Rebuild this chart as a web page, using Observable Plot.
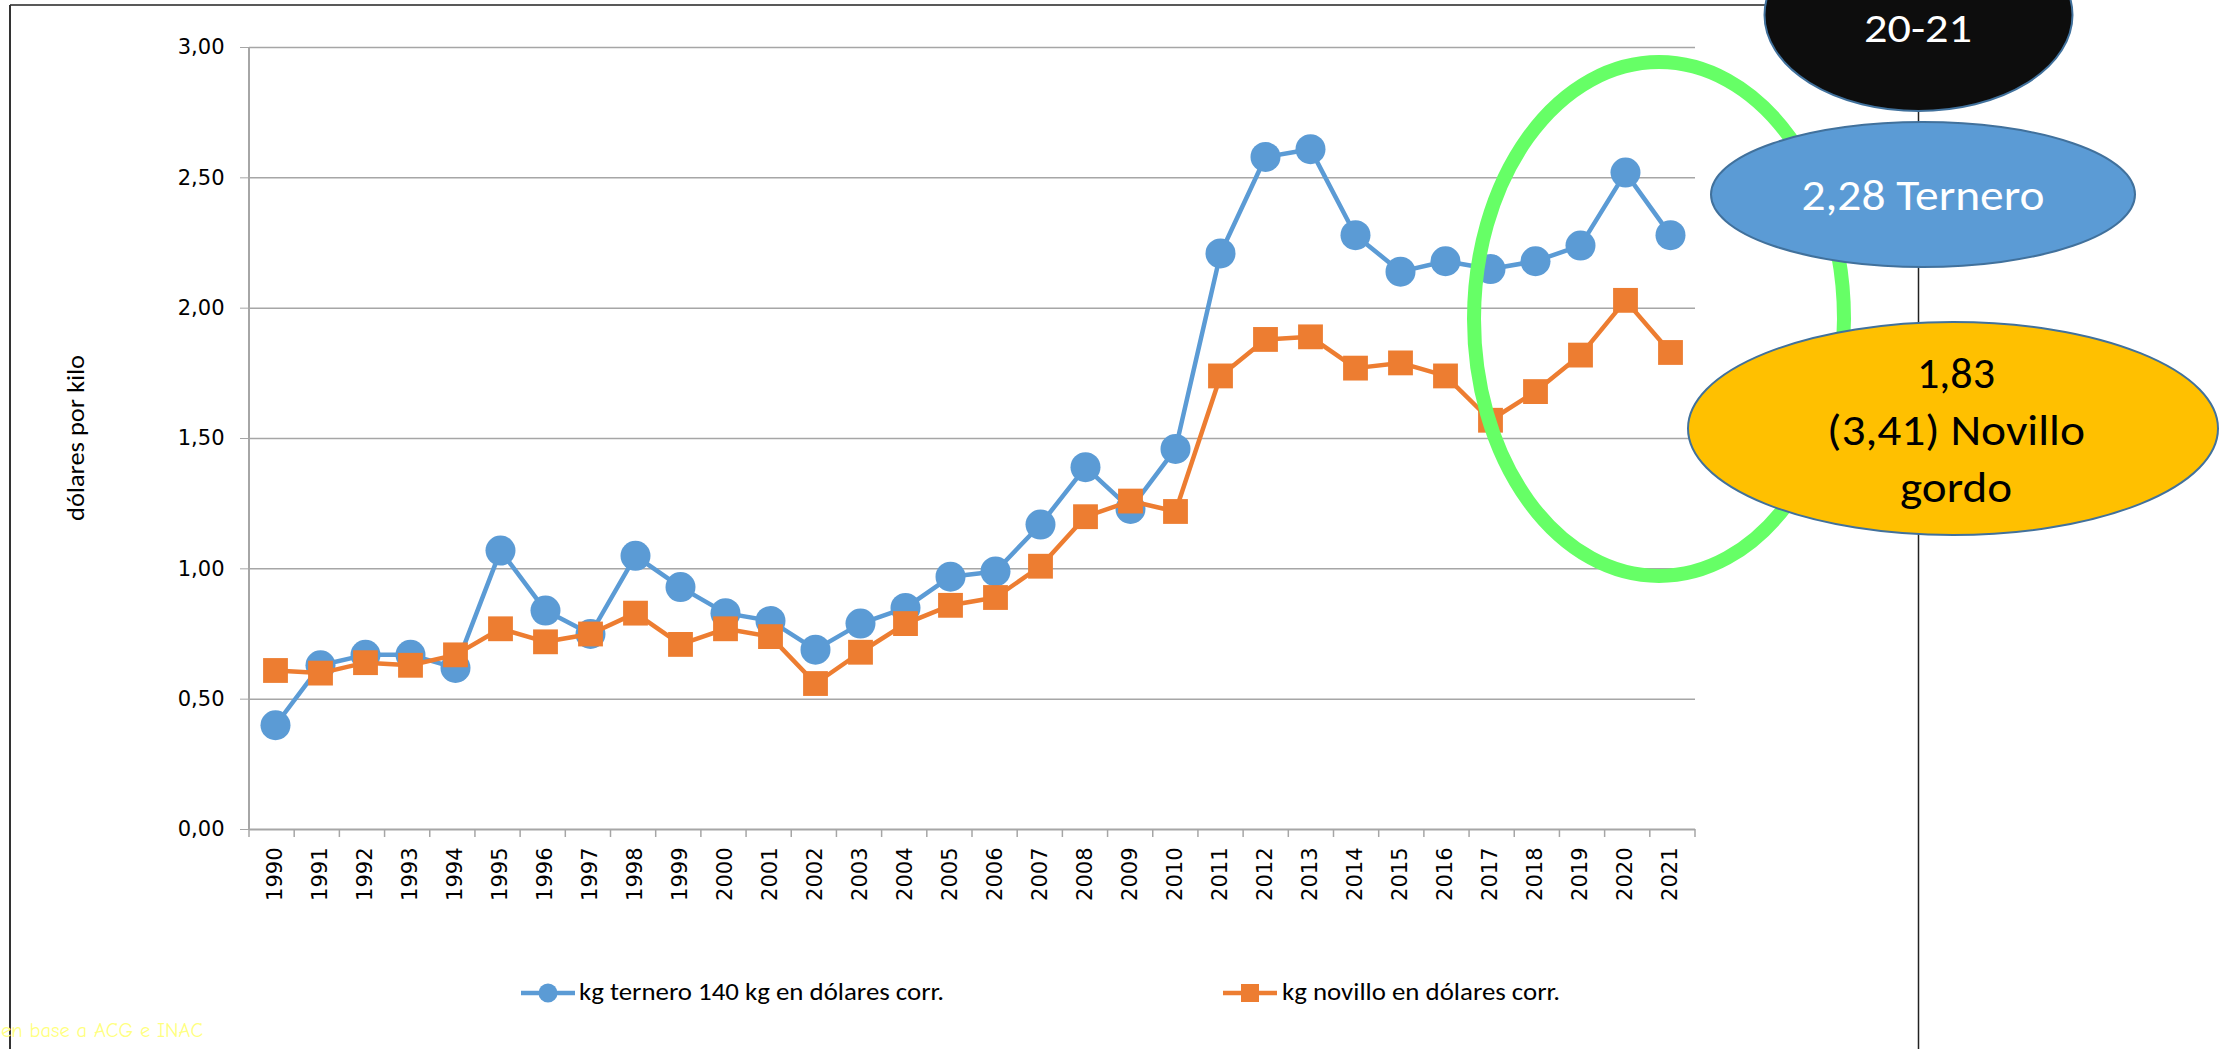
<!DOCTYPE html>
<html>
<head>
<meta charset="utf-8">
<script src="https://cdn.jsdelivr.net/npm/d3@7"></script>
<script src="https://cdn.jsdelivr.net/npm/@observablehq/plot@0.6"></script>
<style>
  html, body { margin: 0; padding: 0; background: #fff; }
  body { width: 2228px; height: 1049px; overflow: hidden; position: relative; }
  #chart { position: absolute; left: 0; top: 0; }
  #legend { position: absolute; left: 0; top: 960px; width: 2228px; height: 89px; }
  #overlay { position: absolute; left: 0; top: 0; pointer-events: none; }
</style>
</head>
<body>
<div id="chart"></div>
<div id="legend"></div>
<svg id="overlay" width="2228" height="1049"></svg>
<script>
// ---- data ----
const years = ["1990","1991","1992","1993","1994","1995","1996","1997","1998","1999",
               "2000","2001","2002","2003","2004","2005","2006","2007","2008","2009",
               "2010","2011","2012","2013","2014","2015","2016","2017","2018","2019",
               "2020","2021"];
const ternero = [0.40,0.63,0.67,0.67,0.62,1.07,0.84,0.75,1.05,0.93,
                 0.83,0.80,0.69,0.79,0.85,0.97,0.99,1.17,1.39,1.23,
                 1.46,2.21,2.58,2.61,2.28,2.14,2.18,2.15,2.18,2.24,
                 2.52,2.28];
const novillo = [0.61,0.60,0.64,0.63,0.67,0.77,0.72,0.75,0.83,0.71,
                 0.77,0.74,0.56,0.68,0.79,0.86,0.89,1.01,1.20,1.26,
                 1.22,1.74,1.88,1.89,1.77,1.79,1.74,1.57,1.68,1.82,
                 2.03,1.83];
const yTicks = [0, 0.5, 1, 1.5, 2, 2.5, 3];
const seriesNames = ["kg ternero 140 kg en dólares corr.", "kg novillo en dólares corr."];
const yLabel = "dólares por kilo";
const caption = "en base a ACG e INAC";

const BLUE = "#5B9BD5", ORANGE = "#ED7D31", GRID = "#a6a6a6";
const TICKFONT = "'DejaVu Sans', Verdana, sans-serif";
const rowsT = years.map((y, i) => ({year: y, v: ternero[i]}));
const rowsN = years.map((y, i) => ({year: y, v: novillo[i]}));
const fmt = d => d.toFixed(2).replace(".", ",");

const chart = Plot.plot({
  width: 2228, height: 960,
  marginLeft: 249, marginRight: 533, marginTop: 47, marginBottom: 131,
  style: {background: "transparent", overflow: "visible", fontFamily: TICKFONT, fontSize: "21px", color: "#000"},
  x: {type: "point", domain: years, padding: 0.5, label: null},
  y: {domain: [0, 3], label: null},
  marks: [
    Plot.gridY(yTicks.slice(1), {stroke: GRID, strokeOpacity: 1, strokeWidth: 1.5}),
    Plot.ruleY([0], {stroke: GRID, strokeWidth: 2}),
    Plot.axisY(yTicks, {tickSize: 9, tickPadding: 16, tickFormat: fmt, stroke: GRID, fill: "#000", fontSize: 21, fontFamily: TICKFONT, label: null}),
    Plot.axisX(years, {tickSize: 0, tickPadding: 18, tickRotate: -90, textAnchor: "end", fill: "#000", fontSize: 21, fontFamily: TICKFONT, label: null}),
    Plot.line(rowsT, {x: "year", y: "v", stroke: BLUE, strokeWidth: 4.5}),
    Plot.dot(rowsT, {x: "year", y: "v", r: 15, fill: BLUE}),
    Plot.line(rowsN, {x: "year", y: "v", stroke: ORANGE, strokeWidth: 4.5}),
    Plot.dot(rowsN, {x: "year", y: "v", r: 14, symbol: "square", fill: ORANGE})
  ]
});
document.getElementById("chart").appendChild(chart);

// axis line and category boundary ticks, using the plot's own scales
const xs = chart.scale("x"), ys = chart.scale("y");
const [xa, xb] = xs.range;
const step = (xb - xa) / years.length;
const y0 = ys.apply(0), yTop = ys.apply(3);
const s = d3.select(chart);
const g = s.append("g");
g.append("line").attr("x1", xa).attr("x2", xa).attr("y1", yTop).attr("y2", y0 + 0.5)
  .attr("stroke", GRID).attr("stroke-width", 2);
for (let k = 0; k <= years.length; k++) {
  const x = xa + k * step;
  g.append("line").attr("x1", x).attr("x2", x).attr("y1", y0).attr("y2", y0 + 8)
    .attr("stroke", GRID).attr("stroke-width", 1.5);
}
s.append("text")
  .attr("transform", `translate(84,${(yTop + y0) / 2}) rotate(-90)`)
  .attr("text-anchor", "middle")
  .attr("font-family", "Carlito, Lato, sans-serif")
  .attr("font-size", 25)
  .attr("textLength", 166).attr("lengthAdjust", "spacingAndGlyphs")
  .attr("fill", "#000")
  .text(yLabel);

// legend below the chart
const lg = d3.select("#legend").append("svg").attr("width", 2228).attr("height", 89);
const legendItems = [
  {name: seriesNames[0], color: BLUE, sym: "circle", lx: 521, tx: 579, tw: 365},
  {name: seriesNames[1], color: ORANGE, sym: "square", lx: 1223, tx: 1282, tw: 278}
];
for (const it of legendItems) {
  const cy = 33;
  lg.append("line").attr("x1", it.lx).attr("x2", it.lx + 54).attr("y1", cy).attr("y2", cy)
    .attr("stroke", it.color).attr("stroke-width", 4.5);
  if (it.sym === "circle") {
    lg.append("circle").attr("cx", it.lx + 27).attr("cy", cy).attr("r", 9.5).attr("fill", it.color);
  } else {
    lg.append("rect").attr("x", it.lx + 27 - 9).attr("y", cy - 9).attr("width", 18).attr("height", 18).attr("fill", it.color);
  }
  lg.append("text").attr("x", it.tx).attr("y", 40)
    .attr("font-family", "Carlito, Lato, sans-serif").attr("font-size", 25)
    .attr("textLength", it.tw).attr("lengthAdjust", "spacingAndGlyphs")
    .attr("fill", "#000").text(it.name);
}

// overlay: frame, annotations, caption
const ov = d3.select("#overlay");
ov.append("line").attr("x1", 10).attr("x2", 1918).attr("y1", 5).attr("y2", 5).attr("stroke", "#222").attr("stroke-width", 1.5);
ov.append("line").attr("x1", 10).attr("x2", 10).attr("y1", 5).attr("y2", 1049).attr("stroke", "#333").attr("stroke-width", 2);
ov.append("line").attr("x1", 1918.5).attr("x2", 1918.5).attr("y1", 5).attr("y2", 1049).attr("stroke", "#222").attr("stroke-width", 1.5);

ov.append("ellipse").attr("cx", 1659).attr("cy", 319).attr("rx", 185).attr("ry", 257)
  .attr("fill", "none").attr("stroke", "#66FF66").attr("stroke-width", 14);

const annFont = "Carlito, Lato, sans-serif";
ov.append("ellipse").attr("cx", 1918.5).attr("cy", 15).attr("rx", 154).attr("ry", 96)
  .attr("fill", "#0D0D0D").attr("stroke", "#41719C").attr("stroke-width", 2);
ov.append("text").attr("x", 1918).attr("y", 42).attr("text-anchor", "middle")
  .attr("font-family", annFont).attr("font-size", 40).attr("fill", "#fff")
  .attr("textLength", 108).attr("lengthAdjust", "spacingAndGlyphs").text("20-21");

ov.append("ellipse").attr("cx", 1923).attr("cy", 194.5).attr("rx", 212).attr("ry", 72.5)
  .attr("fill", BLUE).attr("stroke", "#41719C").attr("stroke-width", 2);
ov.append("text").attr("x", 1923).attr("y", 210).attr("text-anchor", "middle")
  .attr("font-family", annFont).attr("font-size", 44).attr("fill", "#fff")
  .attr("textLength", 243).attr("lengthAdjust", "spacingAndGlyphs").text("2,28 Ternero");

ov.append("ellipse").attr("cx", 1953).attr("cy", 428.5).attr("rx", 265).attr("ry", 106.5)
  .attr("fill", "#FFC000").attr("stroke", "#41719C").attr("stroke-width", 2);
const yl = [{t: "1,83", y: 388, w: 78}, {t: "(3,41) Novillo", y: 445, w: 258}, {t: "gordo", y: 502, w: 112}];
for (const l of yl) {
  ov.append("text").attr("x", 1956).attr("y", l.y).attr("text-anchor", "middle")
    .attr("font-family", annFont).attr("font-size", 44).attr("fill", "#000")
    .attr("textLength", l.w).attr("lengthAdjust", "spacingAndGlyphs").text(l.t);
}

ov.append("text").attr("x", 1).attr("y", 1037)
  .attr("font-family", "'Comic Sans MS', 'Comic Neue', cursive, sans-serif").attr("font-size", 21)
  .attr("fill", "#FFFF80").attr("textLength", 202).attr("lengthAdjust", "spacingAndGlyphs")
  .text(caption);
</script>
</body>
</html>
